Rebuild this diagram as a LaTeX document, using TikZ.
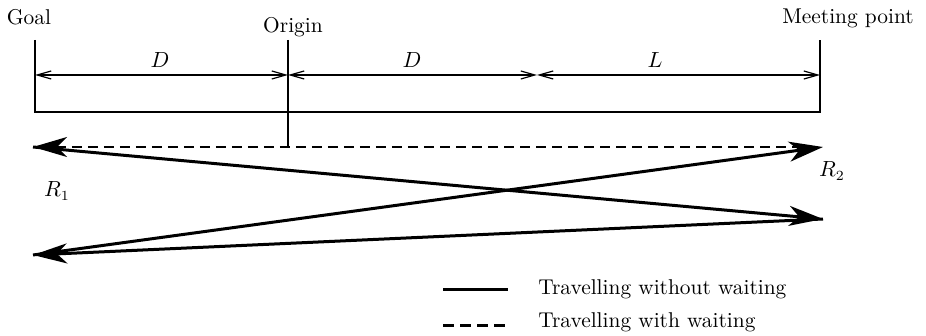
\documentclass[tikz,border=0pt]{standalone}
\usepackage{tikz}
\usetikzlibrary{arrows.meta,positioning}

\begin{document}
\begin{tikzpicture}[
    x=0.5pt,y=-0.5pt,
    lbl/.style={font=\fontsize{10.7}{13}\selectfont,inner sep=0pt},
    frame/.style={line width=0.6pt},
    dim/.style={{Straight Barb[length=7pt,width=4pt]}-{Straight Barb[length=7pt,width=4pt]},line width=0.6pt},
    route/.style={-{Stealth[length=17pt,width=10pt,inset=5pt]},line width=1.5pt},
    wait/.style={line width=1.1pt,dash pattern=on 5pt off 3pt}
  ]
    \useasboundingbox (0,0) rectangle (926,336);
    % positions along the road
    \coordinate (goaltop) at (35,40);
    \coordinate (goalbot) at (35,112);
    \coordinate (origintop) at (288,40);
    \coordinate (originbot) at (288,147);
    \coordinate (meettop) at (820,40);
    \coordinate (meetbot) at (820,112);
    \coordinate (goaldim) at (35,75);
    \coordinate (origindim) at (288,75);
    \coordinate (middim) at (537,75);
    \coordinate (meetdim) at (820,75);
    % turning points of the routes
    \coordinate (lefttop) at (33,147);
    \coordinate (righttop) at (823,147);
    \coordinate (rightlow) at (823,219);
    \coordinate (leftlow) at (33,255);

    \node[lbl,anchor=base] (goal) at (29,25) {Goal};
    \node[lbl,anchor=base] (origin) at (293,33) {Origin};
    \node[lbl,anchor=base] (meeting) at (848,24) {Meeting point};
    \node[lbl,anchor=base] (dleft) at (160,68) {$D$};
    \node[lbl,anchor=base] (dright) at (412,68) {$D$};
    \node[lbl,anchor=base] (lpart) at (655,68) {$L$};
    \node[lbl,anchor=base] (robot1) at (57,197) {$R_1$};
    \node[lbl,anchor=base] (robot2) at (832,177) {$R_2$};

    \draw[frame] (goaltop) -- (goalbot) -- (meetbot) -- (meettop);
    \draw[frame] (origintop) -- (originbot);
    \draw[dim] (goaldim) -- (origindim);
    \draw[dim] (origindim) -- (middim);
    \draw[dim] (middim) -- (meetdim);

    \draw[wait,{Stealth[length=17pt,width=10pt,inset=5pt]}-] (lefttop) -- ([xshift=-10]righttop);
    \draw[route] (lefttop) -- (rightlow);
    \draw[route] (rightlow) -- (leftlow);
    \draw[route] (leftlow) -- (righttop);

    % legend
    \node[lbl,anchor=base west] (nowait) at (538,294) {Travelling without waiting};
    \node[lbl,anchor=base west] (withwait) at (538,328) {Travelling with waiting};
    \coordinate (nowaitA) at (443,290);
    \coordinate (nowaitB) at (508,290);
    \coordinate (withwaitA) at (443,325);
    \coordinate (withwaitB) at (508,325);
    \draw[line width=1.5pt] (nowaitA) -- (nowaitB);
    \draw[line width=1.5pt,dash pattern=on 5.5pt off 3pt] (withwaitA) -- (withwaitB);
  \end{tikzpicture}
\end{document}
